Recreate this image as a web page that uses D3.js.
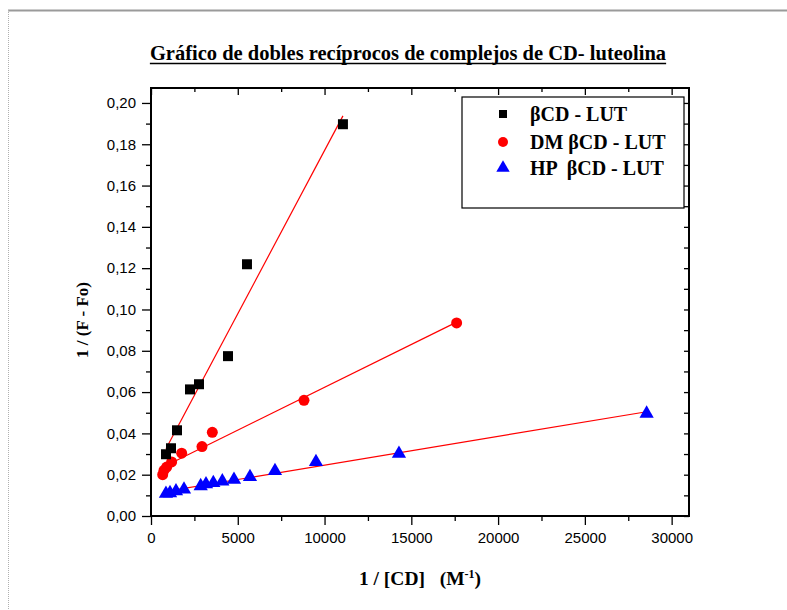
<!DOCTYPE html>
<html>
<head>
<meta charset="utf-8">
<script src="https://cdn.jsdelivr.net/npm/d3@7"></script>
<style>
  html, body { margin: 0; padding: 0; background: #fff; }
  svg { display: block; }
</style>
</head>
<body>
<svg id="chart" width="787" height="610"></svg>
<script>
// ---- Data ----
const bcdX = [864, 1152, 1498, 2247, 2765, 4436, 5530, 11060];
const bcdY = [0.0299, 0.0328, 0.0415, 0.0613, 0.0638, 0.0774, 0.1219, 0.1897];

const dmX = [673, 749, 903, 1190, 1767, 2938, 3533, 8815, 17610];
const dmY = [0.0200, 0.0221, 0.0237, 0.0262, 0.0304, 0.0336, 0.0405, 0.0560, 0.0935];

const hpX = [862, 1095, 1440, 1901, 2863, 3169, 3591, 4110, 4782, 5704, 7144, 9506, 14288, 28558];
const hpY = [0.0108, 0.0111, 0.0120, 0.0129, 0.0145, 0.0154, 0.0160, 0.0168, 0.0176, 0.0189, 0.0218, 0.0262, 0.0302, 0.0496];

const seriesNames = ["βCD - LUT", "DM βCD - LUT", "HP  βCD - LUT"];
const xTickValues = [0, 5000, 10000, 15000, 20000, 25000, 30000];
const xMinorValues = [2500, 7500, 12500, 17500, 22500, 27500];
const yTickValues = [0, 0.02, 0.04, 0.06, 0.08, 0.10, 0.12, 0.14, 0.16, 0.18, 0.20];
const yMinorValues = [0.01, 0.03, 0.05, 0.07, 0.09, 0.11, 0.13, 0.15, 0.17, 0.19];

const titleText = "Gráfico de dobles recíprocos de complejos de CD- luteolina";
const yLabelText = "1 / (F - Fo)";

// ---- Layout ----
const svg = d3.select("#chart");
const L = 151, R = 689, T = 88, B = 516;
const x = d3.scaleLinear().domain([0, 31000]).range([L, R]);
const y = d3.scaleLinear().domain([0, 0.207]).range([B, T + 0.5]);

const serif = "'Liberation Serif', 'Times New Roman', serif";
const sans = "'Liberation Sans', Arial, sans-serif";

// page decorations (document border)
svg.append("line").attr("x1", 8).attr("x2", 787).attr("y1", 10.5).attr("y2", 10.5)
  .attr("stroke", "#9a9a9a").attr("stroke-width", 2);
svg.append("line").attr("x1", 8.5).attr("x2", 8.5).attr("y1", 10).attr("y2", 610)
  .attr("stroke", "#b0b0b0").attr("stroke-width", 1).attr("stroke-dasharray", "1,1");

// title
const title = svg.append("text").attr("x", 408).attr("y", 60)
  .attr("text-anchor", "middle").attr("font-family", serif)
  .attr("font-weight", "bold").attr("font-size", 20.5).text(titleText);
const tw = title.node().getComputedTextLength();
svg.append("line").attr("x1", 408 - tw / 2).attr("x2", 408 + tw / 2)
  .attr("y1", 63.5).attr("y2", 63.5).attr("stroke", "#000").attr("stroke-width", 1.3);

const fmt = v => d3.format(".2f")(v).replace(".", ",");

function styleAxis(g) {
  g.select(".domain").remove();
  g.selectAll("line").attr("stroke", "#000").attr("stroke-width", 1.3);
  g.selectAll("text").attr("font-family", sans).attr("font-size", 15).attr("fill", "#000");
}

// bottom axis (outward)
svg.append("g").attr("transform", `translate(0,${B})`)
  .call(d3.axisBottom(x).tickValues(xTickValues).tickSize(9).tickPadding(7).tickFormat(d3.format("d")))
  .call(styleAxis);
svg.append("g").attr("transform", `translate(0,${B})`)
  .call(d3.axisBottom(x).tickValues(xMinorValues).tickSize(5).tickFormat(""))
  .call(styleAxis);
// top axis (inward)
svg.append("g").attr("transform", `translate(0,${T})`)
  .call(d3.axisBottom(x).tickValues(xTickValues).tickSize(7).tickFormat(""))
  .call(styleAxis);
svg.append("g").attr("transform", `translate(0,${T})`)
  .call(d3.axisBottom(x).tickValues(xMinorValues).tickSize(4).tickFormat(""))
  .call(styleAxis);
// left axis (outward)
svg.append("g").attr("transform", `translate(${L},0)`)
  .call(d3.axisLeft(y).tickValues(yTickValues).tickSize(9).tickPadding(6).tickFormat(fmt))
  .call(styleAxis);
svg.append("g").attr("transform", `translate(${L},0)`)
  .call(d3.axisLeft(y).tickValues(yMinorValues).tickSize(5).tickFormat(""))
  .call(styleAxis);
// right axis (inward)
svg.append("g").attr("transform", `translate(${R},0)`)
  .call(d3.axisLeft(y).tickValues(yTickValues.concat(yMinorValues)).tickSize(5).tickFormat(""))
  .call(styleAxis);

// frame
svg.append("rect").attr("x", L).attr("y", T).attr("width", R - L).attr("height", B - T)
  .attr("fill", "none").attr("stroke", "#000").attr("stroke-width", 2);

// linear fits
function fit(xs, ys) {
  const mx = d3.mean(xs), my = d3.mean(ys);
  let sxy = 0, sxx = 0;
  xs.forEach((v, i) => { sxy += (v - mx) * (ys[i] - my); sxx += (v - mx) * (v - mx); });
  const m = sxy / sxx, b = my - m * mx;
  const x0 = d3.min(xs), x1 = d3.max(xs);
  return [[x0, b + m * x0], [x1, b + m * x1]];
}
const lineGen = d3.line().x(d => x(d[0])).y(d => y(d[1]));
[[bcdX, bcdY], [dmX, dmY], [hpX, hpY]].forEach(([xs, ys]) => {
  svg.append("path").attr("d", lineGen(fit(xs, ys)))
    .attr("fill", "none").attr("stroke", "#ff0000").attr("stroke-width", 1.2);
});

// markers
const sq = d3.symbol().type(d3.symbolSquare).size(100);
const ci = d3.symbol().type(d3.symbolCircle).size(Math.PI * 5.5 * 5.5);
const tr = d3.symbol().type(d3.symbolTriangle).size(88);

svg.append("g").selectAll("path").data(d3.zip(hpX, hpY)).join("path")
  .attr("d", tr).attr("transform", d => `translate(${x(d[0])},${y(d[1])})`).attr("fill", "#0000ff");
svg.append("g").selectAll("path").data(d3.zip(dmX, dmY)).join("path")
  .attr("d", ci).attr("transform", d => `translate(${x(d[0])},${y(d[1])})`).attr("fill", "#ff0000");
svg.append("g").selectAll("path").data(d3.zip(bcdX, bcdY)).join("path")
  .attr("d", sq).attr("transform", d => `translate(${x(d[0])},${y(d[1])})`).attr("fill", "#000");

// legend
svg.append("rect").attr("x", 462).attr("y", 97).attr("width", 222).attr("height", 111)
  .attr("fill", "#fff").attr("stroke", "#000").attr("stroke-width", 1.2);
const legSyms = [
  { sym: d3.symbol().type(d3.symbolSquare).size(64)(), color: "#000" },
  { sym: d3.symbol().type(d3.symbolCircle).size(Math.PI * 5 * 5)(), color: "#ff0000" },
  { sym: d3.symbol().type(d3.symbolTriangle).size(78)(), color: "#0000ff" }
];
const legY = [114, 142, 168];
seriesNames.forEach((name, i) => {
  svg.append("path").attr("d", legSyms[i].sym)
    .attr("transform", `translate(503,${legY[i]})`).attr("fill", legSyms[i].color);
  svg.append("text").attr("x", 530).attr("y", legY[i] + 7)
    .attr("font-family", serif).attr("font-weight", "bold").attr("font-size", 20)
    .style("white-space", "pre").text(name);
});

// axis titles
const xl = svg.append("text").attr("x", 420).attr("y", 585).attr("text-anchor", "middle")
  .attr("font-family", serif).attr("font-weight", "bold").attr("font-size", 19.5)
  .style("white-space", "pre");
xl.append("tspan").text("1 / [CD]   (M");
xl.append("tspan").attr("dy", -7).attr("font-size", 12).text("-1");
xl.append("tspan").attr("dy", 7).text(")");

svg.append("text").attr("transform", "translate(88,320) rotate(-90)")
  .attr("text-anchor", "middle").attr("font-family", serif).attr("font-weight", "bold")
  .attr("font-size", 17).text(yLabelText);
</script>
</body>
</html>
